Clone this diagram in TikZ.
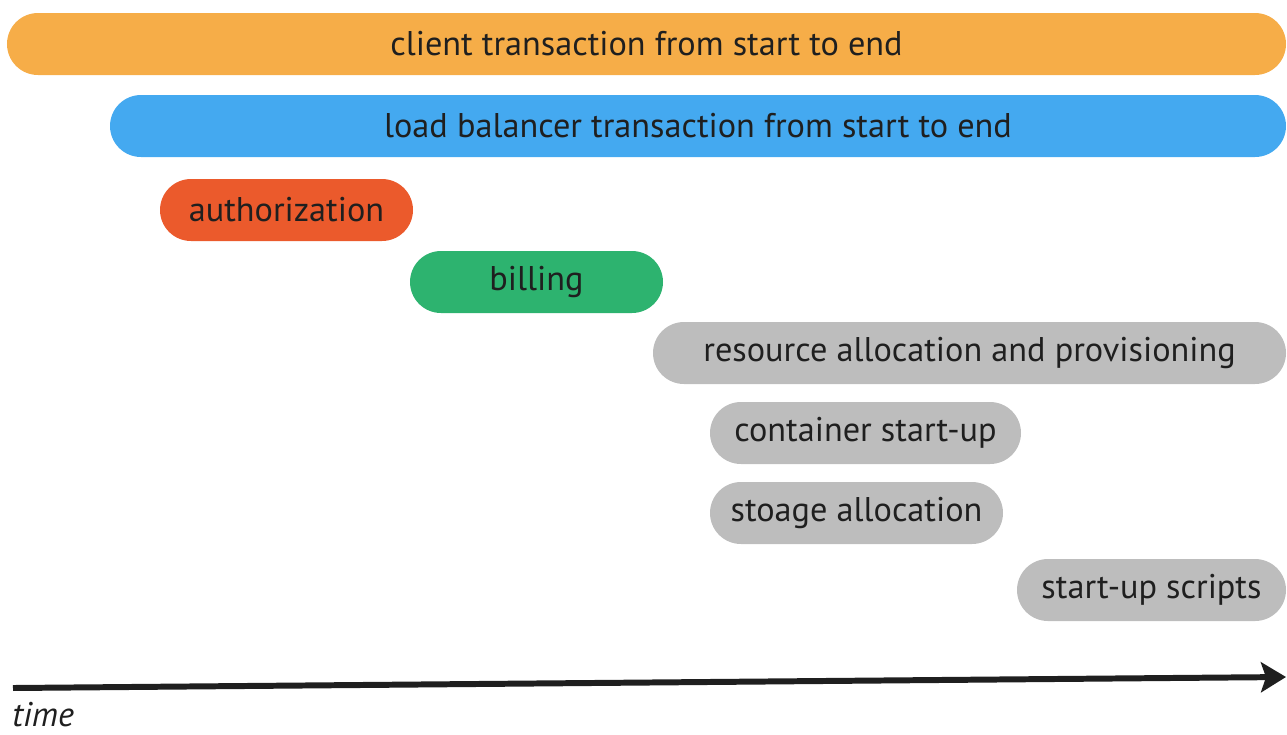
\documentclass[tikz,border=0pt]{standalone}
\usepackage{fontspec}
\setmainfont{PT Sans}
\usepackage{xcolor}
\usetikzlibrary{positioning, arrows.meta}

\definecolor{clientcol}{HTML}{F6AD48}
\definecolor{lbcol}{HTML}{44A9F0}
\definecolor{authcol}{HTML}{EB5A2C}
\definecolor{billcol}{HTML}{2DB36F}
\definecolor{provcol}{HTML}{BDBDBD}

\tikzset{
  bar/.style={rounded corners=0.62cm, minimum height=1.24cm, inner sep=0pt,
    text=black!88, font=\fontsize{19.5}{21}\selectfont},
}

\begin{document}
\begin{tikzpicture}
        \useasboundingbox (0,0) rectangle (25.74,-14.68);

        % Draw bars
        \foreach \name/\xa/\xb/\yc/\col/\txt in {
            client/0.14/25.72/-0.88/clientcol/client transaction from start to end,
            balancer/2.20/25.72/-2.52/lbcol/load balancer transaction from start to end,
            auth/3.20/8.26/-4.20/authcol/authorization,
            billing/8.20/13.26/-5.64/billcol/billing,
            resource/13.06/25.72/-7.06/provcol/resource allocation and provisioning,
            container/14.20/20.42/-8.66/provcol/container start-up,
            storage/14.20/20.06/-10.26/provcol/stoage allocation,
            scripts/20.34/25.72/-11.80/provcol/start-up scripts} {
          \node[bar, fill=\col, minimum width={(\xb-\xa)*1cm}] (\name) at ({(\xa+\xb)/2},\yc) {\txt};
        }

        % Time axis
        \coordinate (t0) at (0.26,-13.76);
        \coordinate (t1) at (25.72,-13.54);
        \draw[line width=3.4pt, black!88, -{Stealth[length=0.5cm, width=0.6cm, inset=0.1cm]}] (t0) -- (t1);
        \node[anchor=west, inner sep=0pt, font=\fontsize{19.5}{21}\selectfont\itshape, text=black!88] (time) at (0.24,-14.30) {time};
      \end{tikzpicture}
\end{document}
